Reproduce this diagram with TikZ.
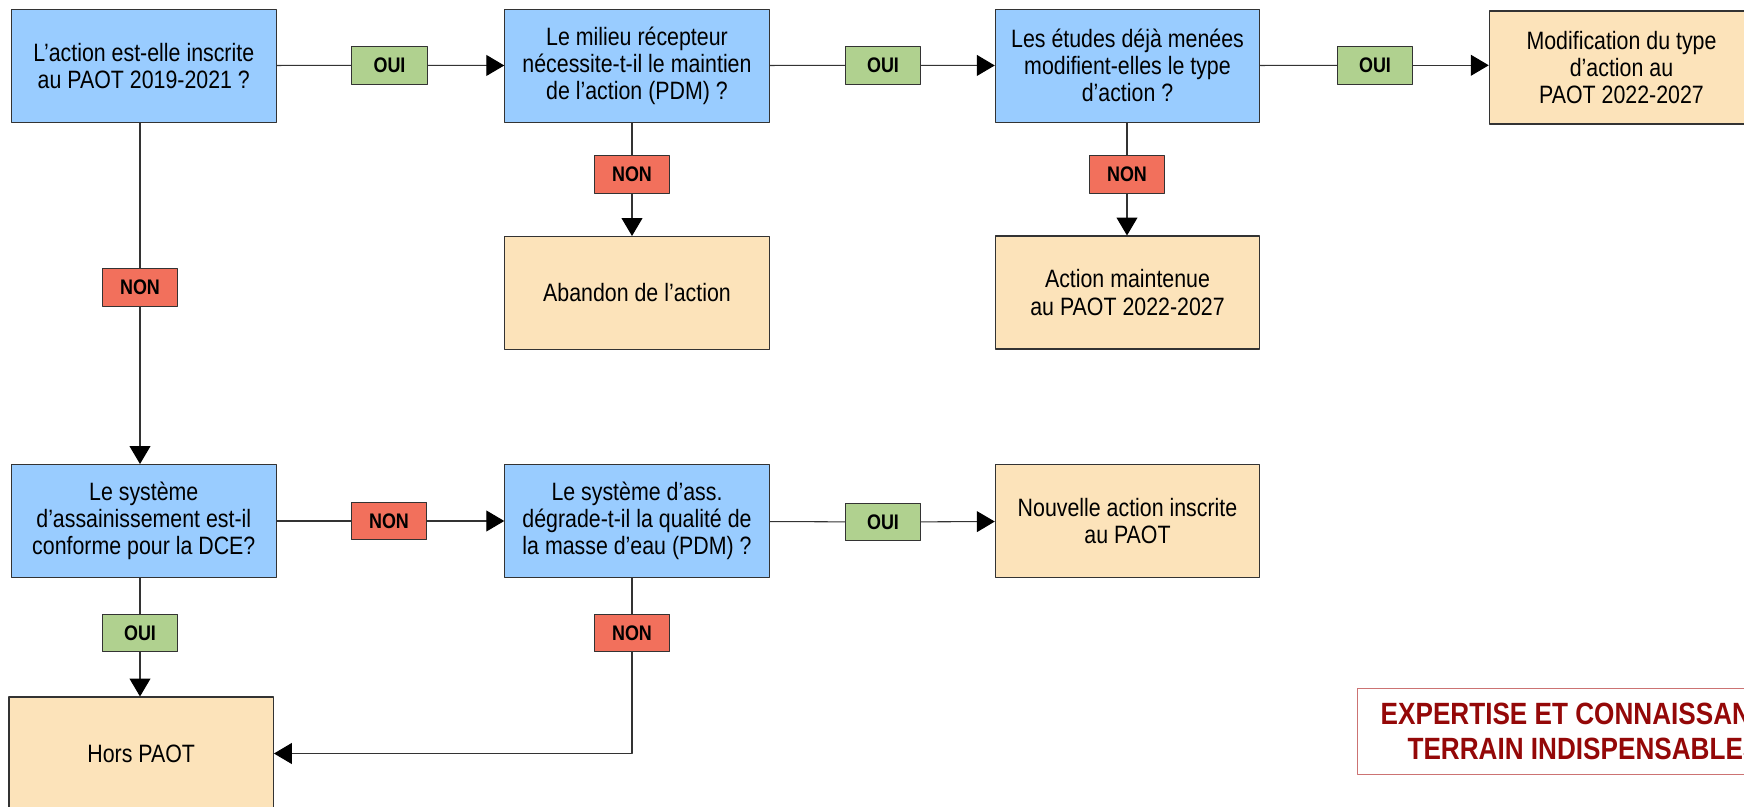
\documentclass[tikz,border=0pt]{standalone}
\usepackage{fontspec}
\setmainfont[FakeStretch=0.85]{Liberation Sans}
\usepackage{tikz}
\usetikzlibrary{arrows.meta}
\definecolor{ccbleu}{rgb}{0.6,0.8,1.0}
\definecolor{ffdorange}{rgb}{0.99,0.89,0.73}
\definecolor{bbvert}{rgb}{0.69,0.82,0.56}
\definecolor{ffrouge}{rgb}{0.95,0.44,0.36}
\definecolor{ddrouge}{rgb}{0.58,0.03,0.03}
\definecolor{cclrouge}{rgb}{0.8,0.45,0.45}
\definecolor{ttgris}{rgb}{0.2,0.2,0.2}

\begin{document}
\begin{tikzpicture}[line cap=round,line join=round,x=0.02cm,y=-0.02cm,line width=0.6pt,
  >={Triangle[length=10.2pt,width=11.9pt,color=black]},
  lien/.style={draw=ttgris},
  question/.style={draw=ttgris,fill=ccbleu,minimum width=5.29cm,minimum height=2.26cm,inner sep=0pt,align=center,font=\fontsize{14.3}{15.4}\selectfont},
  resultat/.style={question,fill=ffdorange},
  oui/.style={draw=ttgris,fill=bbvert,minimum width=1.51cm,minimum height=0.75cm,inner sep=0pt,font=\fontsize{12}{13}\selectfont\bfseries},
  non/.style={oui,fill=ffrouge}]
\clip(0,0) rectangle (1744,807);
\node[question] (a) at (143.8,65.7) {L’action est-elle inscrite\\au PAOT 2019-2021 ?};
\node[question] (b) at (637,65.7) {Le milieu récepteur\\nécessite-t-il le maintien\\de l’action (PDM) ?};
\node[question] (c) at (1127.5,65.7) {Les études déjà menées\\modifient-elles le type\\d’action ?};
\node[resultat] (modif) at (1621.5,67.5) {Modification du type\\d’action au\\PAOT 2022-2027};
\node[resultat] (abandon) at (637,293) {Abandon de l’action};
\node[resultat] (maintenue) at (1127.5,292.5) {Action maintenue\\au PAOT 2022-2027};
\node[question] (e) at (143.8,521) {Le système\\d’assainissement est-il\\conforme pour la DCE?};
\node[question] (f) at (637,521) {Le système d’ass.\\dégrade-t-il la qualité de\\la masse d’eau (PDM) ?};
\node[resultat] (nouvelle) at (1127.5,521) {Nouvelle action inscrite\\au PAOT};
\node[resultat] (hors) at (141.2,753.5) {Hors PAOT};
\node[oui] (oui1) at (389.5,65.3) {OUI};
\node[oui] (oui2) at (883,65.3) {OUI};
\node[oui] (oui3) at (1375,65.3) {OUI};
\node[non] (nonb) at (632,174.6) {NON};
\node[non] (nonc) at (1127,174.6) {NON};
\node[non] (nona) at (140,287.5) {NON};
\node[non] (none) at (389,521) {NON};
\node[oui] (ouif) at (883,522) {OUI};
\node[oui] (ouie) at (140,633) {OUI};
\node[non] (nonf) at (632,633) {NON};
\node[draw=cclrouge,text=ddrouge,minimum width=9.08cm,minimum height=1.71cm,align=center,font=\fontsize{17.5}{19.8}\selectfont\bfseries] (expertise) at (1584,731.7) {EXPERTISE ET CONNAISSANCE\\TERRAIN INDISPENSABLES};
\draw[lien] (a) -- (oui1);
\draw[lien,->] (oui1) -- (b);
\draw[lien] (b) -- (oui2);
\draw[lien,->] (oui2) -- (c);
\draw[lien] (c) -- (oui3);
\draw[lien,->] (oui3) -- (oui3 -| modif.west);
\draw[lien] (b.south -| nonb) -- (nonb);
\draw[lien,->] (nonb) -- (abandon.north -| nonb);
\draw[lien] (c.south -| nonc) -- (nonc);
\draw[lien,->] (nonc) -- (maintenue.north -| nonc);
\draw[lien] (a.south -| nona) -- (nona);
\draw[lien,->] (nona) -- (e.north -| nona);
\draw[lien] (e) -- (none);
\draw[lien,->] (none) -- (f);
\draw[lien] (f) -- (ouif);
\draw[lien,->] (ouif) -- (nouvelle);
\draw[lien] (e.south -| ouie) -- (ouie);
\draw[lien,->] (ouie) -- (hors.north -| ouie);
\draw[lien] (f.south -| nonf) -- (nonf);
\draw[lien,->] (nonf) |- (hors.east);
\end{tikzpicture}
\end{document}
